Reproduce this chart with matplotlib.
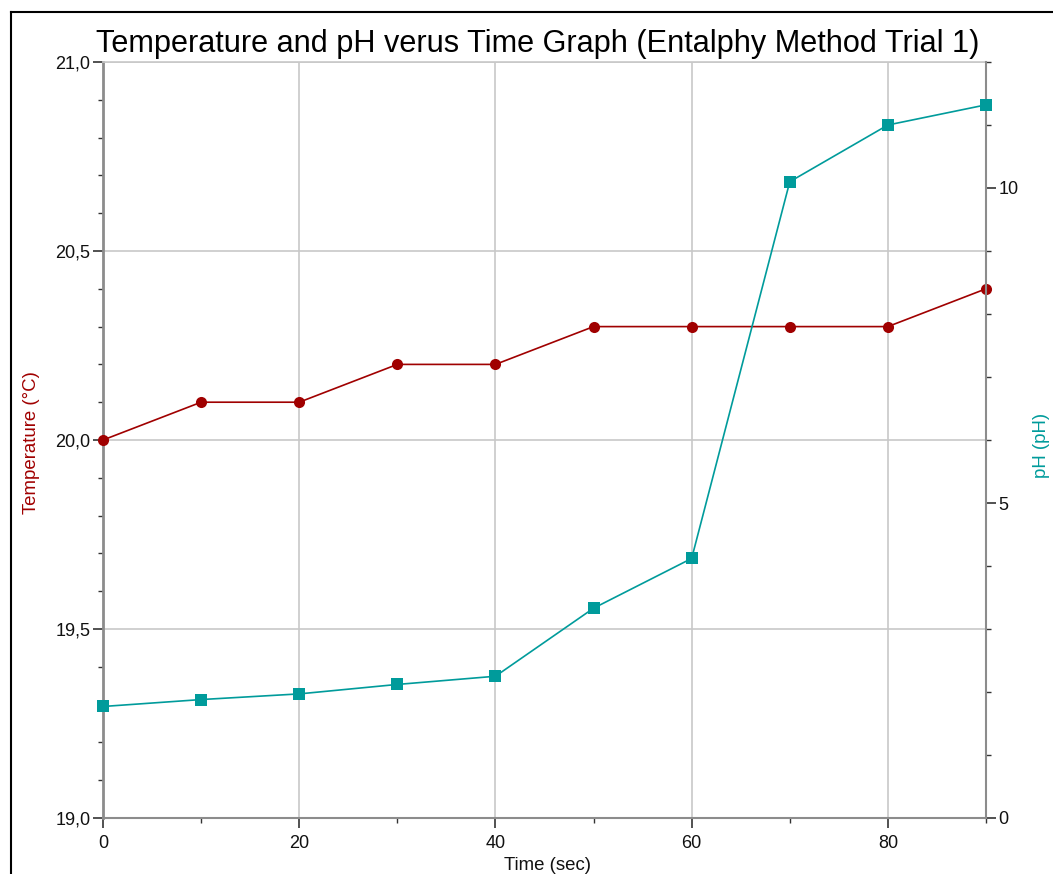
import matplotlib
matplotlib.use("Agg")
import matplotlib.pyplot as plt
from matplotlib.ticker import FixedLocator, MultipleLocator, FixedFormatter
from matplotlib.lines import Line2D

plt.rcParams['font.family'] = ['Liberation Sans', 'DejaVu Sans']

# ---- data ----
time_s = [0, 10, 20, 30, 40, 50, 60, 70, 80, 90]
temperature_c = [20.0, 20.1, 20.1, 20.2, 20.2, 20.3, 20.3, 20.3, 20.3, 20.4]
ph_values = [1.77, 1.88, 1.97, 2.12, 2.25, 3.33, 4.12, 10.1, 11.0, 11.32]

x_ticks = [0, 20, 40, 60, 80]
x_tick_labels = ["0", "20", "40", "60", "80"]
temp_ticks = [19.0, 19.5, 20.0, 20.5, 21.0]
temp_tick_labels = ["19,0", "19,5", "20,0", "20,5", "21,0"]
ph_ticks = [0, 5, 10]
ph_tick_labels = ["0", "5", "10"]

title = "Temperature and pH verus Time Graph (Entalphy Method Trial 1)"
temp_color = "#a00000"
ph_color = "#009b9b"
grid_color = "#c8c8c8"
spine_color = "#8c8c8c"

W, H = 1053, 874
fig = plt.figure(figsize=(W / 100, H / 100), dpi=100)
L, R, T, B = 103, 986, 62, 818
ax = fig.add_axes([L / W, 1 - B / H, (R - L) / W, (B - T) / H])

ax.plot(time_s, temperature_c, color=temp_color, lw=1.2, marker='o',
        markersize=8, markeredgewidth=0, markerfacecolor="#a00000",
        clip_on=False, zorder=3)
ax.set_xlim(0, 90)
ax.set_ylim(19.0, 21.0)
ax.xaxis.set_major_locator(FixedLocator(x_ticks))
ax.xaxis.set_major_formatter(FixedFormatter(x_tick_labels))
ax.xaxis.set_minor_locator(MultipleLocator(10))
ax.yaxis.set_major_locator(FixedLocator(temp_ticks))
ax.yaxis.set_major_formatter(FixedFormatter(temp_tick_labels))
ax.yaxis.set_minor_locator(MultipleLocator(0.1))
ax.grid(True, which='major', color=grid_color, lw=1.2)
ax.set_axisbelow(True)

ax.tick_params(axis='both', which='major', direction='out', length=7,
               width=1.2, color='#333333', labelsize=13, labelcolor='#111111', pad=2)
ax.tick_params(axis='both', which='minor', direction='out', length=3.5,
               width=1.0, color='#333333')
ax.tick_params(axis='x', which='major', pad=5)

ax.spines['left'].set_color(spine_color)
ax.spines['left'].set_linewidth(2)
ax.spines['bottom'].set_color(spine_color)
ax.spines['bottom'].set_linewidth(1.5)
ax.spines['top'].set_color(grid_color)
ax.spines['top'].set_linewidth(1.2)
ax.spines['right'].set_visible(False)

ax2 = ax.twinx()
ax2.plot(time_s, ph_values, color=ph_color, lw=1.2, marker='s',
         markersize=8, markeredgewidth=0, markerfacecolor="#009b9b",
         clip_on=False, zorder=3)
ax2.set_ylim(0, 12)
ax2.yaxis.set_major_locator(FixedLocator(ph_ticks))
ax2.yaxis.set_major_formatter(FixedFormatter(ph_tick_labels))
ax2.yaxis.set_minor_locator(MultipleLocator(1))
ax2.tick_params(axis='y', which='major', direction='out', length=7,
                width=1.2, color='#333333', labelsize=13, labelcolor='#111111', pad=2)
ax2.tick_params(axis='y', which='minor', direction='out', length=3.5,
                width=1.0, color='#333333')
for s in ['left', 'top', 'bottom']:
    ax2.spines[s].set_visible(False)
ax2.spines['right'].set_color(spine_color)
ax2.spines['right'].set_linewidth(1.5)

# labels
fig.text(538 / W, 1 - 52 / H, title, ha='center', va='baseline',
         fontsize=22.1, color='#000000')
fig.text(31 / W, 1 - 443 / H, "Temperature (°C)", rotation=90, ha='center',
         va='center', fontsize=13.4, color=temp_color)
fig.text(1042 / W, 1 - 445 / H, "pH (pH)", rotation=90, ha='center',
         va='center', fontsize=13.4, color=ph_color)
fig.text(548 / W, 1 - 866 / H, "Time (sec)", ha='center', va='center',
         fontsize=13.4, color='#111111')

# screenshot border
fig.add_artist(Line2D([11 / W, 11 / W], [0, 1 - 12 / H], color='black', lw=1.5))
fig.add_artist(Line2D([11 / W, 1], [1 - 12 / H, 1 - 12 / H], color='black', lw=1.5))

fig.savefig("out.png", dpi=100)
